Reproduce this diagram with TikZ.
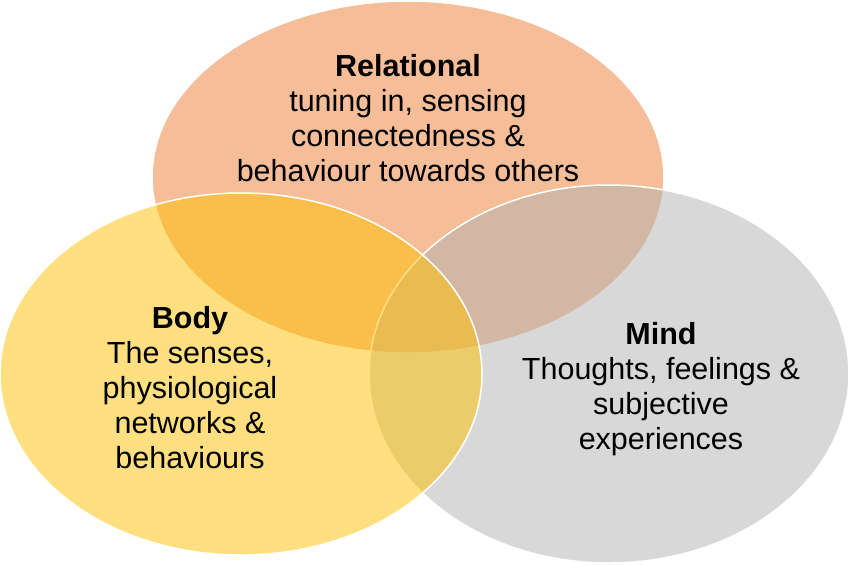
\documentclass[tikz,border=0pt]{standalone}
\usepackage{fontspec}
\setmainfont{Liberation Sans}

\definecolor{relcol}{HTML}{ED7D31}
\definecolor{bodycol}{HTML}{FFC000}
\definecolor{mindcol}{HTML}{B2B2B2}

\tikzset{
    blob/.style={fill=#1, fill opacity=0.5, draw=white, line width=1.5pt},
    label/.style={align=center, font=\fontsize{30.5}{35}\selectfont, inner sep=0pt}
}

\begin{document}
\begin{tikzpicture}[x=1pt, y=-1pt]
    \useasboundingbox (0,0) rectangle (850,564);

    % Centres of the three ellipses
    \coordinate (R) at (408,177);
    \coordinate (M) at (609,374);
    \coordinate (B) at (241,374);

    % Ellipses, bottom one first (relational, then mind, then body)
    \foreach \c/\rx/\ry/\col in {R/256/176/relcol, M/240/189/mindcol, B/241/181/bodycol}{
        \path[blob=\col] (\c) ellipse [x radius=\rx pt, y radius=\ry pt];
    }

    % Texts
    \node[label] (rel) at (408,118.5) {\textbf{Relational}\\tuning in, sensing\\connectedness \&\\behaviour towards others};
    \node[label] (body) at (190,387.5) {\textbf{Body}\\The senses,\\physiological\\networks \&\\behaviours};
    \node[label] (mind) at (661,389) {\textbf{Mind}\\Thoughts, feelings \&\\subjective\\experiences};
\end{tikzpicture}
\end{document}
